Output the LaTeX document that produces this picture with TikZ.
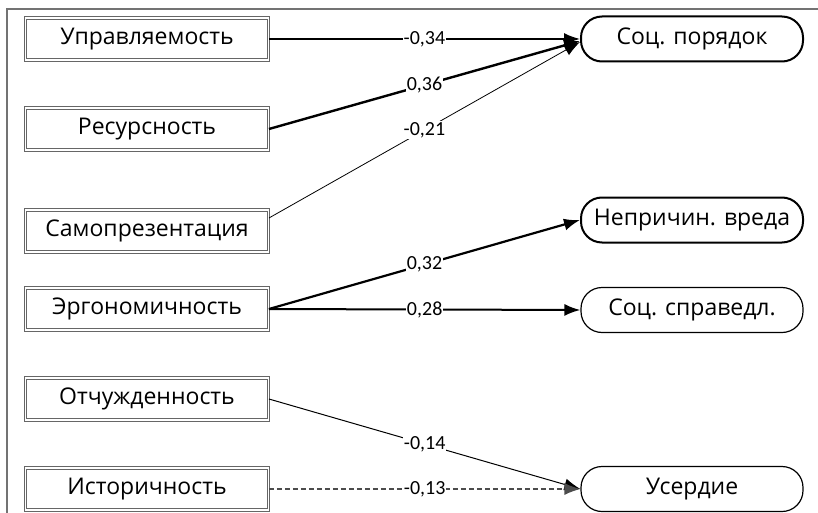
\documentclass[tikz,border=0pt]{standalone}
\usepackage{fontspec}
\setmainfont{Open Sans}
\newfontfamily\lblfont{Carlito}
\usetikzlibrary{arrows.meta}
\tikzset{
  srcbox/.style={draw=black!60, double=white, double distance=1.4pt, line width=0.9pt,
    minimum width=243pt, minimum height=42pt, inner sep=0pt, font=\fontsize{23}{26}\selectfont},
  tgtbox/.style={draw=black, rounded corners=21pt, minimum width=222pt, minimum height=45pt,
    inner sep=0pt, font=\fontsize{23}{26}\selectfont},
  tgtthick/.style={tgtbox, line width=2pt},
  tgtthin/.style={tgtbox, line width=1.2pt},
  conn/.style={-{Latex[length=16pt,width=12pt]}},
  lbl/.style={fill=white, inner sep=0.8pt, font=\lblfont\fontsize{20}{22}\selectfont},
}
\begin{document}
\begin{tikzpicture}[x=1pt,y=-1pt]
\useasboundingbox (0,0) rectangle (818,513);
\draw[black!55, line width=1.4pt] (7,9) rectangle (840,540);
% sources
\node[srcbox] (upr) at (147,39) {Управляемость};
\node[srcbox] (res) at (147,129) {Ресурсность};
\node[srcbox] (sam) at (147,231) {Самопрезентация};
\node[srcbox] (erg) at (147,309) {Эргономичность};
\node[srcbox] (otc) at (147,399) {Отчужденность};
\node[srcbox] (ist) at (147,489) {Историчность};
% targets
\node[tgtthick] (por) at (692,39) {Соц. порядок};
\node[tgtthick] (vre) at (692,220) {Непричин. вреда};
\node[tgtthin] (spr) at (692,310) {Соц. справедл.};
\node[tgtthin] (usr) at (692,489) {Усердие};
% connectors
\draw[conn, line width=1.6pt] (upr.east) -- node[lbl] {-0,34} (por.west);
\draw[conn, line width=2.4pt] (res.east) -- node[lbl] {0,36} ([yshift=-2pt]por.west);
\draw[conn, line width=0.8pt] ([yshift=13pt]sam.east) -- node[lbl] {-0,21} ([yshift=-3pt]por.west);
\draw[conn, line width=2.2pt] (erg.east) -- node[lbl] {0,32} (vre.west);
\draw[conn, line width=2pt] (erg.east) -- node[lbl] {0,28} (spr.west);
\draw[conn, line width=1pt] (otc.east) -- node[lbl] {-0,14} (usr.west);
\draw[conn, line width=1.2pt, dashed, dash pattern=on 5pt off 3pt, draw=black!70] (ist.east) -- node[lbl] {-0,13} (usr.west);
\end{tikzpicture}
\end{document}
